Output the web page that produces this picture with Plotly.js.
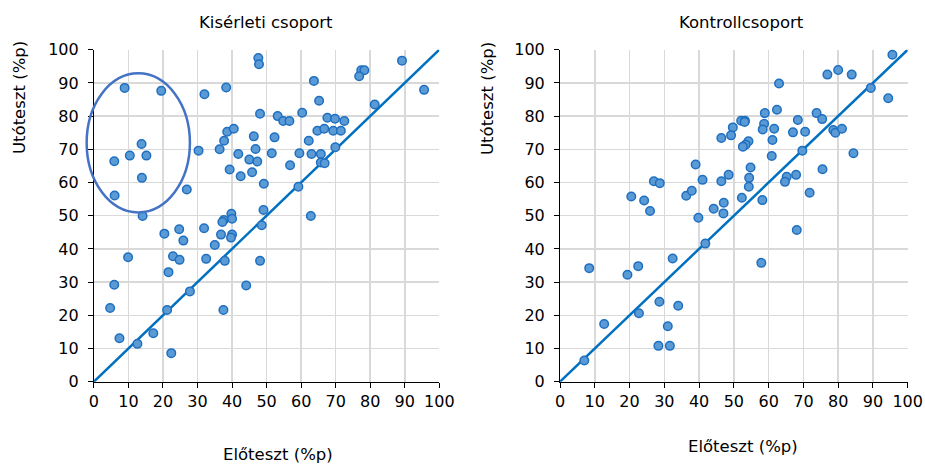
<!DOCTYPE html>
<html>
<head>
<meta charset="utf-8">
<script src="https://cdn.plot.ly/plotly-3.0.1.min.js"></script>
<style>html,body{margin:0;padding:0;background:#fff;}#chart{width:925px;height:464px;}</style>
</head>
<body>
<div id="chart"></div>
<script>
// Kisérleti csoport (experimental group): pre-test (x) and post-test (y)
const expPre  = [8.9,19.5,32.0,38.3,47.6,47.8,48.1,13.8,10.4,15.2,5.9,13.9,6.0,14.1,26.9,30.3,36.4,38.6,40.5,37.7,41.8,39.3,42.5,45.0,47.3,45.8,46.3,46.8,49.2,49.1,37.6,39.8,89.2,95.6,77.4,78.3,76.8,63.7,65.2,81.3,53.2,54.8,56.6,60.3,67.6,69.8,72.5,64.7,66.7,69.3,71.5,52.3,62.2,69.9,51.5,59.5,63.0,65.7,65.7,66.8,56.8,59.2,62.8,20.4,24.7,25.9,31.9,36.8,37.2,40.0,40.0,39.7,35.0,22.9,24.8,32.5,37.9,9.9,21.6,5.9,27.8,44.1,4.7,21.2,37.5,7.4,17.2,12.6,22.4,48.6,48.1];
const expPost = [88.5,87.6,86.6,88.6,97.5,95.6,80.7,71.6,68.1,68.1,66.4,61.4,56.1,49.9,57.9,69.6,70.0,75.3,76.2,72.6,68.6,63.9,61.9,66.9,66.3,63.1,73.9,70.1,59.6,51.7,48.7,50.6,96.7,87.9,93.8,93.8,92.0,90.6,84.6,83.5,80.0,78.5,78.5,81.0,79.5,79.2,78.5,75.6,76.2,75.6,75.6,73.6,72.6,70.6,68.8,68.8,68.6,68.6,66.0,65.8,65.2,58.7,49.9,44.6,45.9,42.5,46.2,44.3,48.1,49.1,44.3,43.4,41.2,37.8,36.7,37.0,36.4,37.5,33.0,29.2,27.2,29.0,22.2,21.6,21.6,13.1,14.6,11.4,8.6,47.1,36.4];

// Kontrollcsoport (control group)
const ctlPre  = [49.7,49.2,46.4,39.0,41.0,46.4,48.5,27.0,28.7,20.5,24.2,25.9,36.3,37.9,44.2,47.1,47.0,39.8,95.6,76.9,80.0,83.9,63.0,89.4,94.4,58.9,62.4,73.8,75.4,52.1,53.2,53.1,58.7,58.3,61.6,68.4,67.0,70.5,78.6,79.2,81.1,61.1,54.2,53.4,52.6,69.7,84.4,60.9,54.8,54.4,54.3,75.5,67.9,65.2,64.7,52.3,58.2,71.8,41.8,8.4,19.4,22.5,32.4,28.6,34.0,22.7,12.7,31.0,28.3,31.6,7.0,68.1,57.9];
const ctlPost = [76.6,74.2,73.4,65.4,60.8,60.4,62.3,60.4,59.8,55.8,54.6,51.4,56.0,57.5,52.1,53.9,50.7,49.4,98.5,92.5,93.9,92.5,89.8,88.5,85.4,80.9,81.9,80.9,79.1,78.6,78.6,78.2,77.7,76.0,76.2,78.8,75.1,75.3,75.8,75.0,76.2,72.8,72.4,71.4,70.8,69.6,68.8,68.0,64.5,61.4,58.7,64.0,62.3,61.7,60.2,55.4,54.7,56.9,41.6,34.2,32.2,34.8,37.1,24.1,22.9,20.6,17.4,16.7,10.8,10.8,6.4,45.7,35.8];

// reference line y = x
const diagX = [0, 100];
const diagY = [0, 100];

const tickVals = [0,10,20,30,40,50,60,70,80,90,100];
const titles = ["Kisérleti csoport", "Kontrollcsoport"];
const xTitle = "Előteszt (%p)";
const yTitle = "Utóteszt (%p)";

// highlighted region (ellipse) in data units of the left panel: [x0, x1, y0, y1]
const ellipseBox = [-2.1, 27.8, 51.0, 92.9];

const FONT = "DejaVu Sans, Verdana, sans-serif";
const markerStyle = {size: 8.5, color: "#5B9BD5", line: {color: "#1F6FC0", width: 1.5}};
const lineStyle = {color: "#0070C0", width: 2.5};

const xDom1 = [93.9/925, 439.3/925];
const xDom2 = [560/925, 907.7/925];
const yDom = [(464-381.7)/464, (464-49.7)/464];

function axis(dom, anchor, extra) {
  return Object.assign({
    domain: dom, anchor: anchor, range: [0, 100], tickvals: tickVals,
    showgrid: true, gridcolor: "#D9D9D9", gridwidth: 1.5,
    zeroline: false, showline: true, linecolor: "#000", linewidth: 1,
    ticks: "outside", ticklen: 5, tickcolor: "#000", tickwidth: 1,
    tickfont: {family: FONT, size: 16, color: "#000"},
    fixedrange: true
  }, extra || {});
}

const traces = [
  {x: diagX, y: diagY, mode: "lines", line: lineStyle, xaxis: "x", yaxis: "y", hoverinfo: "skip", cliponaxis: false},
  {x: expPre, y: expPost, mode: "markers", marker: markerStyle, xaxis: "x", yaxis: "y", cliponaxis: false},
  {x: diagX, y: diagY, mode: "lines", line: lineStyle, xaxis: "x2", yaxis: "y2", hoverinfo: "skip", cliponaxis: false},
  {x: ctlPre, y: ctlPost, mode: "markers", marker: markerStyle, xaxis: "x2", yaxis: "y2", cliponaxis: false}
];

// convert left-panel data units to paper coords for the ellipse (unclipped)
function px(v, dom) { return dom[0] + (dom[1]-dom[0]) * v / 100; }

const ann = (text, x, y, extra) => Object.assign({
  text: text, x: x, y: y, xref: "paper", yref: "paper", showarrow: false,
  xanchor: "center", yanchor: "middle", font: {family: FONT, size: 16.5, color: "#000"}
}, extra || {});

const layout = {
  width: 925, height: 464,
  margin: {l: 0, r: 0, t: 0, b: 0},
  paper_bgcolor: "#fff", plot_bgcolor: "#fff",
  showlegend: false,
  xaxis: axis(xDom1, "y"),
  yaxis: axis(yDom, "x", {ticklabelstandoff: 6}),
  xaxis2: axis(xDom2, "y2"),
  yaxis2: axis(yDom, "x2", {ticklabelstandoff: 6}),
  annotations: [
    ann(titles[0], 266/925, 1 - 22/464),
    ann(titles[1], 741/925, 1 - 22/464),
    ann(xTitle, 278/925, 1 - 454/464),
    ann(xTitle, 743/925, 1 - 446/464),
    ann(yTitle, 19/925, 1 - 98/464, {textangle: -90}),
    ann(yTitle, 487/925, 1 - 98/464, {textangle: -90})
  ],
  shapes: [{
    type: "circle", xref: "paper", yref: "paper",
    x0: px(ellipseBox[0], xDom1), x1: px(ellipseBox[1], xDom1),
    y0: px(ellipseBox[2], yDom), y1: px(ellipseBox[3], yDom),
    line: {color: "#4472C4", width: 2.5}, layer: "above"
  }]
};

Plotly.newPlot("chart", traces, layout, {staticPlot: true, displayModeBar: false});
</script>
</body>
</html>
